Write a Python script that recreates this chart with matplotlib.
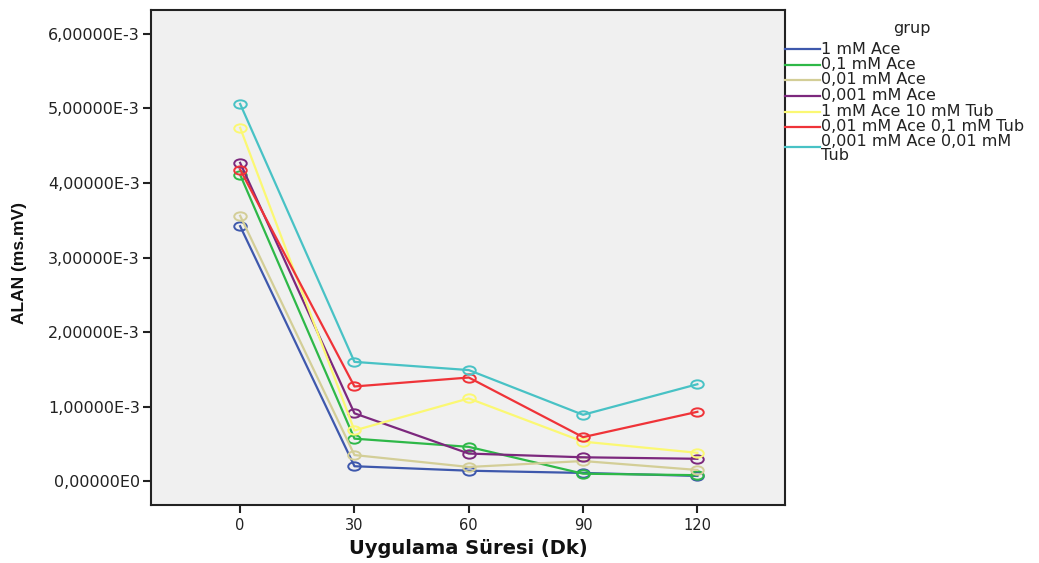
import matplotlib
matplotlib.use("Agg")
import matplotlib.pyplot as plt
from matplotlib.lines import Line2D
from matplotlib.path import Path
from matplotlib.transforms import Affine2D

plt.rcParams['font.family'] = ['DejaVu Sans']

# Time points (minutes)
times = [0, 30, 60, 90, 120]

# Group names
groups = [
    "1 mM Ace",
    "0,1 mM Ace",
    "0,01 mM Ace",
    "0,001 mM Ace",
    "1 mM Ace 10 mM Tub",
    "0,01 mM Ace 0,1 mM Tub",
    "0,001 mM Ace 0,01 mM\nTub",
]

# Mean area values (ms.mV) per group
ace_1 = [3.42e-3, 0.20e-3, 0.14e-3, 0.11e-3, 0.07e-3]
ace_01 = [4.11e-3, 0.57e-3, 0.46e-3, 0.10e-3, 0.08e-3]
ace_001 = [3.56e-3, 0.35e-3, 0.19e-3, 0.27e-3, 0.15e-3]
ace_0001 = [4.27e-3, 0.91e-3, 0.37e-3, 0.32e-3, 0.30e-3]
ace1_tub10 = [4.74e-3, 0.68e-3, 1.11e-3, 0.53e-3, 0.38e-3]
ace001_tub01 = [4.18e-3, 1.27e-3, 1.39e-3, 0.59e-3, 0.93e-3]
ace0001_tub001 = [5.06e-3, 1.60e-3, 1.49e-3, 0.89e-3, 1.30e-3]

series = [ace_1, ace_01, ace_001, ace_0001, ace1_tub10, ace001_tub01, ace0001_tub001]
colors = ["#3E58AC", "#2EB848", "#D3CE97", "#7C287D", "#FBF873", "#EF3338", "#48C2C5"]

y_ticks = [0, 1e-3, 2e-3, 3e-3, 4e-3, 5e-3, 6e-3]
y_tick_labels = ["0,00000E0", "1,00000E-3", "2,00000E-3", "3,00000E-3",
                 "4,00000E-3", "5,00000E-3", "6,00000E-3"]

W, H = 1039, 563
fig = plt.figure(figsize=(W / 100, H / 100), dpi=100)


def fx(x):
    return x / W


def fy(y):
    return 1 - y / H


ax = fig.add_axes([fx(151), fy(505), fx(785) - fx(151), fy(10) - fy(505)])
ax.set_facecolor("#F0F0F0")

# wide open ellipse marker
ellipse = Path.unit_circle().transformed(Affine2D().scale(1.5, 1.0))

for vals, col in zip(series, colors):
    ax.plot(times, vals, color=col, lw=1.6, marker=ellipse, ms=9,
            mfc="none", mec=col, mew=1.4, zorder=3)

ax.set_xlim(-23.4, 143)
ax.set_ylim(-0.32e-3, 6.32e-3)
ax.set_xticks(times)
ax.set_xticklabels([str(t) for t in times], fontsize=10.5)
ax.set_yticks(y_ticks)
ax.set_yticklabels(y_tick_labels, fontsize=11.5)
ax.tick_params(direction="out", length=6, width=1.5, colors="#222222", pad=2)
ax.tick_params(axis="x", pad=3)
for sp in ax.spines.values():
    sp.set_linewidth(1.5)
    sp.set_color("#222222")

fig.text(fx(468), fy(548), "Uygulama Süresi (Dk)", fontsize=14,
         fontweight="bold", ha="center", va="center", color="#111111")
fig.text(fx(20), fy(263), "ALAN (ms.mV)", fontsize=12.5, family="Liberation Sans",
         fontweight="bold", rotation=90, ha="center", va="center", color="#111111")

# legend drawn to the right of the plot
fig.text(fx(912), fy(28), "grup", fontsize=11.5, ha="center", va="center",
         color="#222222")
entry_y = [49, 64.5, 80, 96, 111.5, 127, 148.5]
handle_y = [49, 64.5, 80, 96, 111.5, 127, 146.5]
for name, col, ty, hy in zip(groups, colors, entry_y, handle_y):
    fig.add_artist(Line2D([fx(785), fx(820)], [fy(hy), fy(hy)],
                          transform=fig.transFigure, color=col, lw=1.6))
    fig.text(fx(821), fy(ty), name, fontsize=11.5, ha="left", va="center",
             color="#222222", linespacing=0.9)

fig.savefig("out.png", dpi=100)
